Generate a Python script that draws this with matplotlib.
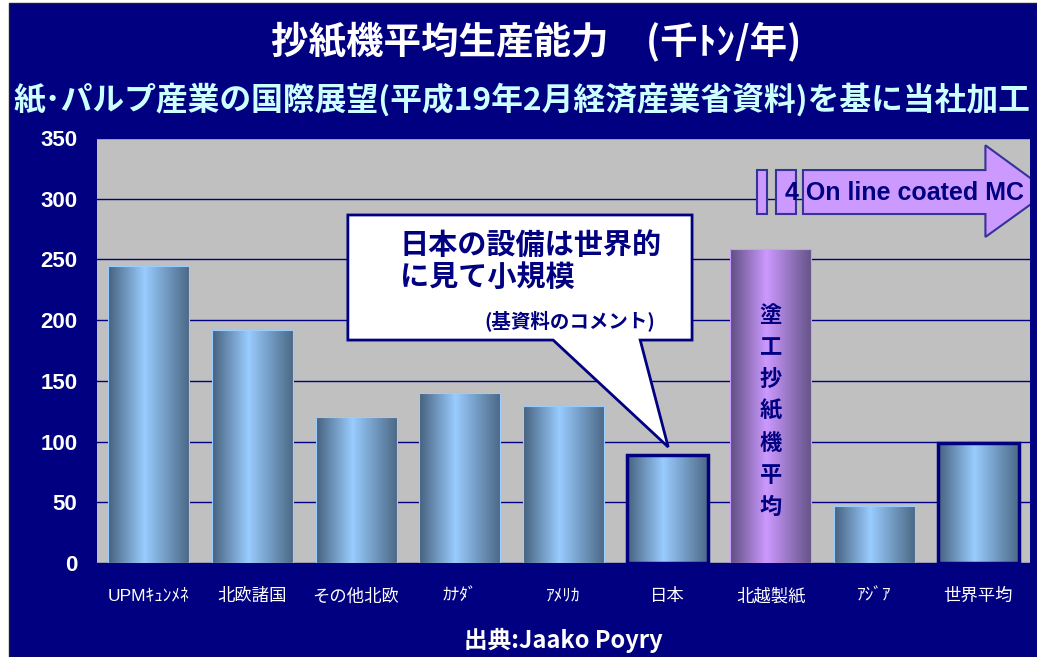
import numpy as np
import matplotlib
matplotlib.use('Agg')
import matplotlib.pyplot as plt
from matplotlib.colors import LinearSegmentedColormap
from matplotlib.patches import Rectangle, Polygon

# Data
categories = ['UPMｷｭﾝﾒﾈ', '北欧諸国', 'その他北欧', 'ｶﾅﾀﾞ', 'ｱﾒﾘｶ', '日本', '北越製紙', 'ｱｼﾞｱ', '世界平均']
capacity = [245, 192, 120, 140, 129, 89, 259, 47, 99]
y_ticks = [0, 50, 100, 150, 200, 250, 300, 350]

title = '抄紙機平均生産能力　(千ﾄﾝ/年)'
subtitle = '紙･パルプ産業の国際展望(平成19年2月経済産業省資料)を基に当社加工'
source = '出典:Jaako Poyry'
callout = '日本の設備は世界的\nに見て小規模'
callout_note = '(基資料のコメント)'
hokuetsu_note = '塗\n工\n抄\n紙\n機\n平\n均'
arrow_text = '4 On line coated MC'

NAVY = '#000080'
JP = ['Noto Sans CJK JP', 'DejaVu Sans']
LAT = ['Liberation Sans', 'Noto Sans CJK JP']

fig = plt.figure(figsize=(10.37, 6.57), dpi=100, facecolor='white')
# navy slide background
fig.patches.append(Rectangle((9 / 1037, 0), 1, 1 - 3 / 657, transform=fig.transFigure,
                             facecolor=NAVY, edgecolor='#202020', lw=1, zorder=-10))

ax = fig.add_axes([97 / 1037, 94 / 657, 933 / 1037, 425 / 657])
ax.set_facecolor('#C0C0C0')

x = np.arange(len(categories))
bars = ax.bar(x, capacity, width=0.78, color='none', edgecolor='#99CCFF', lw=0.8, zorder=3)

blue_cmap = LinearSegmentedColormap.from_list('b', [(0, '#46617D'), (0.45, '#99CCFF'), (1, '#4D6986')])
purple_cmap = LinearSegmentedColormap.from_list('p', [(0, '#5E4F80'), (0.45, '#CC99FF'), (1, '#655589')])
grad = np.linspace(0, 1, 256).reshape(1, -1)

for i, b in enumerate(bars):
    cmap = purple_cmap if categories[i] == '北越製紙' else blue_cmap
    im = ax.imshow(grad, cmap=cmap, aspect='auto', zorder=2,
                   extent=[b.get_x(), b.get_x() + b.get_width(), 0, b.get_height()])
    im.set_clip_path(b)
    if categories[i] in ('日本', '世界平均'):
        b.set_edgecolor(NAVY)
        b.set_linewidth(2.5)
    if categories[i] == '北越製紙':
        b.set_edgecolor('#CC99FF')

ax.set_xlim(-0.5, len(categories) - 0.5)
ax.set_ylim(0, 350)
ax.set_yticks(y_ticks)
ax.yaxis.grid(True, color=NAVY, lw=1)
ax.set_axisbelow(True)
for s in ax.spines.values():
    s.set_visible(False)

ax.set_xticks(x)
ax.set_xticklabels(categories, color='white', fontsize=12.5, family=LAT)
ax.tick_params(axis='x', length=0, pad=18)
ax.tick_params(axis='y', length=0, pad=14, labelcolor='white')
for t in ax.get_yticklabels():
    t.set_family(LAT)
    t.set_fontsize(16)
    t.set_fontweight('bold')

# vertical note inside the Hokuetsu bar
ax.text(6, 125, hokuetsu_note, ha='center', va='center', color=NAVY, fontsize=16,
        fontweight='bold', family=JP, linespacing=1.5, zorder=5)

# arrow annotation
for x0, x1 in [(5.87, 5.96), (6.05, 6.24)]:
    ax.add_patch(Rectangle((x0, 287.4), x1 - x0, 36.2, facecolor='#CC99FF',
                           edgecolor='#333399', lw=1.5, zorder=4))
ax.add_patch(Polygon([(6.31, 287.4), (8.07, 287.4), (8.07, 268.5), (8.68, 306),
                      (8.07, 344), (8.07, 323.6), (6.31, 323.6)], closed=True,
                     facecolor='#CC99FF', edgecolor='#333399', lw=1.5, zorder=4))
ax.text(6.14, 305, arrow_text, ha='left', va='center', color=NAVY, fontsize=18,
        fontweight='bold', family=LAT, zorder=5, clip_on=True)

# callout balloon
ax.add_patch(Polygon([(1.92, 286.6), (5.24, 286.6), (5.24, 183.6), (4.74, 183.6),
                      (5.01, 95.5), (3.90, 183.6), (1.92, 183.6)], closed=True,
                     facecolor='white', edgecolor=NAVY, lw=2, zorder=6))
ax.text(2.42, 249, callout, ha='left', va='center', color=NAVY, fontsize=21,
        fontweight='bold', family=JP, linespacing=1.1, zorder=7)
ax.text(4.88, 200, callout_note, ha='right', va='center', color=NAVY, fontsize=14,
        fontweight='bold', family=JP, zorder=7)

# titles and source
fig.text(536 / 1037, 1 - 42 / 657, title, ha='center', va='center', color='white',
         fontsize=27, fontweight='bold', family=JP)
fig.text(522 / 1037, 1 - 100 / 657, subtitle, ha='center', va='center', color='#CCFFFF',
         fontsize=22.9, fontweight='bold', family=JP)
fig.text(563 / 1037, 1 - 640 / 657, source, ha='center', va='center', color='white',
         fontsize=17, fontweight='bold', family=JP)

fig.savefig('out.png', dpi=100, facecolor=fig.get_facecolor())
